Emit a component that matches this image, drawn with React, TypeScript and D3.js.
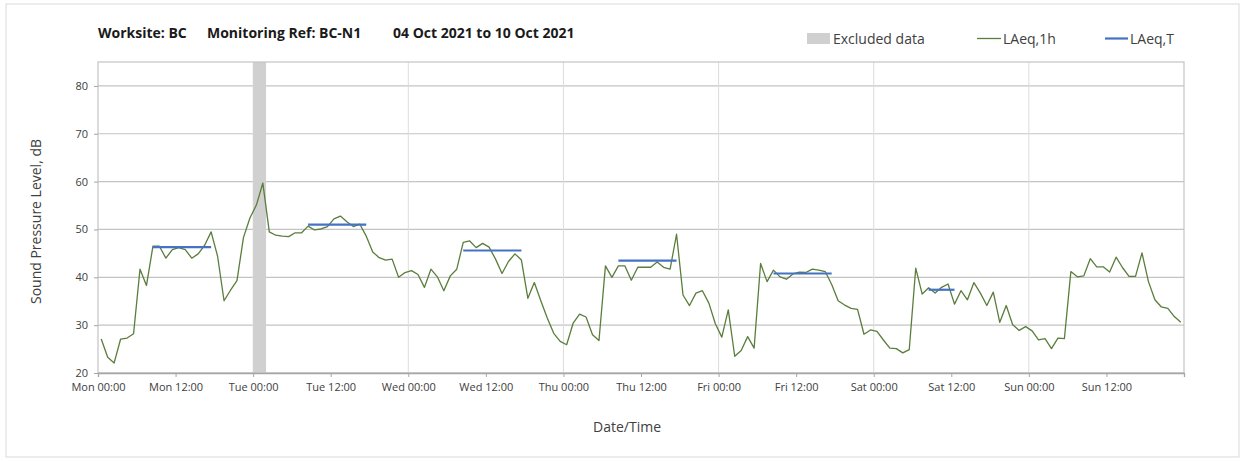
import { useRef, useEffect } from "react";
import * as d3 from "d3";

// hourly LAeq,1h values, Mon 00:00 .. Sun 23:00 (04-10 Oct 2021)
const laeq1h: number[] = [
  27.1, 23.3, 22.1, 27.1, 27.3, 28.2, 41.7, 38.3, 46.5, 46.5, 44.0, 45.8, 46.2, 45.8, 44.0, 44.9, 46.7, 49.5, 44.4, 35.1, 37.3, 39.3, 48.3, 52.4,
  55.1, 59.7, 49.5, 48.8, 48.6, 48.5, 49.3, 49.3, 50.7, 49.9, 50.1, 50.6, 52.2, 52.8, 51.6, 50.6, 51.1, 48.6, 45.3, 44.1, 43.6, 43.8, 40.0, 41.0,
  41.4, 40.6, 37.9, 41.7, 40.1, 37.2, 40.3, 41.7, 47.3, 47.6, 46.2, 47.1, 46.3, 43.8, 40.8, 43.3, 44.9, 43.6, 35.6, 38.9, 35.1, 31.5, 28.3, 26.6,
  25.9, 30.4, 32.3, 31.7, 28.0, 26.8, 42.4, 40.0, 42.4, 42.4, 39.4, 42.1, 42.1, 42.1, 43.2, 42.1, 41.7, 49.0, 36.3, 34.1, 36.7, 37.2, 34.6, 30.3,
  27.5, 33.2, 23.5, 24.7, 27.6, 25.2, 42.9, 39.1, 41.5, 40.1, 39.6, 40.7, 41.1, 41.0, 41.7, 41.5, 41.2, 38.5, 35.1, 34.2, 33.5, 33.3, 28.1, 29.0,
  28.7, 26.9, 25.2, 25.1, 24.2, 24.9, 41.9, 36.5, 37.8, 36.7, 37.9, 38.6, 34.4, 37.2, 35.3, 38.9, 36.7, 34.1, 36.9, 30.6, 34.1, 30.1, 28.9, 29.7,
  28.8, 26.9, 27.2, 25.1, 27.3, 27.2, 41.2, 40.1, 40.3, 43.9, 42.2, 42.2, 41.1, 44.2, 42.0, 40.2, 40.2, 45.1, 39.1, 35.3, 33.8, 33.5, 31.8, 30.6,
];

// LAeq,T periods: first hour, last hour, level
const periodStart = [8, 32, 56, 80, 104, 128];
const periodEnd = [17, 41, 65, 89, 113, 132];
const periodLevel = [46.3, 51.0, 45.6, 43.5, 40.8, 37.4];

// excluded data window (hours from Mon 00:00)
const excludedFrom = 24;
const excludedTo = 26;

const xTickLabels = [
  "Mon 00:00", "Mon 12:00", "Tue 00:00", "Tue 12:00", "Wed 00:00", "Wed 12:00", "Thu 00:00",
  "Thu 12:00", "Fri 00:00", "Fri 12:00", "Sat 00:00", "Sat 12:00", "Sun 00:00", "Sun 12:00",
];
const yTicks = [20, 30, 40, 50, 60, 70, 80];

const W = 1243;
const H = 461;
const margin = { top: 62, right: 59, bottom: 88, left: 98 };
const FONT = "'Open Sans', sans-serif";

export default function App() {
  const xAxisRef = useRef<SVGGElement | null>(null);
  const yAxisRef = useRef<SVGGElement | null>(null);

  const x = d3.scaleLinear().domain([0, 168]).range([margin.left, W - margin.right]);
  const y = d3.scaleLinear().domain([20, 85]).range([H - margin.bottom, margin.top]);

  const line = d3
    .line<number>()
    .x((_, i) => x(i + 0.5))
    .y((d) => y(d));

  useEffect(() => {
    const xAxis = d3
      .axisBottom(x)
      .tickValues(d3.range(0, 169, 12))
      .tickSize(4)
      .tickPadding(6)
      .tickFormat((d, i) => xTickLabels[i] ?? "");
    const gx = d3.select(xAxisRef.current!).call(xAxis as any);
    gx.select(".domain").attr("stroke", "#a6a6a6").attr("stroke-width", 1.3);
    gx.selectAll(".tick line").attr("stroke", "#a6a6a6");
    gx.selectAll(".tick text").attr("fill", "#404040").style("font-family", FONT).style("font-size", "11px");

    const yAxis = d3.axisLeft(y).tickValues(yTicks).tickSize(4).tickPadding(6);
    const gy = d3.select(yAxisRef.current!).call(yAxis as any);
    gy.select(".domain").remove();
    gy.selectAll(".tick line").attr("stroke", "#a6a6a6");
    gy.selectAll(".tick text").attr("fill", "#404040").style("font-family", FONT).style("font-size", "11px");
  }, []);

  const plotW = W - margin.left - margin.right;
  const plotH = H - margin.top - margin.bottom;

  return (
    <svg width={W} height={H} style={{ position: "absolute", left: 0, top: 0, background: "#fff" }}>
      <rect x={6} y={4} width={W - 10} height={H - 8} fill="#fff" stroke="#d9d9d9" />

      {/* title */}
      <g fontFamily={FONT} fontWeight={700} fontSize={14} fill="#1a1a1a">
        <text x={98} y={38}>Worksite: BC</text>
        <text x={207} y={38}>Monitoring Ref: BC-N1</text>
        <text x={393} y={38}>04 Oct 2021 to 10 Oct 2021</text>
      </g>

      {/* legend */}
      <g fontFamily={FONT} fontSize={14} fill="#404040">
        <rect x={807} y={33} width={23} height={11} fill="#d0d0d0" />
        <text x={833} y={44}>Excluded data</text>
        <line x1={977} x2={1001} y1={38.5} y2={38.5} stroke="#5a7d3c" strokeWidth={1.3} />
        <text x={1003} y={44}>LAeq,1h</text>
        <line x1={1105} x2={1128} y1={38.5} y2={38.5} stroke="#4472c4" strokeWidth={2.2} />
        <text x={1130} y={44}>LAeq,T</text>
      </g>

      {/* gridlines */}
      {yTicks.map((t) => (
        <line key={"h" + t} x1={margin.left} x2={W - margin.right} y1={y(t)} y2={y(t)} stroke="#c4c4c4" strokeWidth={1.2} />
      ))}
      {d3.range(24, 168, 24).map((t) => (
        <line key={"v" + t} x1={x(t)} x2={x(t)} y1={margin.top} y2={H - margin.bottom} stroke="#dcdcdc" strokeWidth={1} />
      ))}

      {/* excluded data */}
      <rect x={x(excludedFrom)} y={margin.top} width={x(excludedTo) - x(excludedFrom)} height={plotH} fill="#d0d0d0" />

      {/* plot border */}
      <rect x={margin.left} y={margin.top} width={plotW} height={plotH} fill="none" stroke="#c4c4c4" strokeWidth={1.2} />

      <g ref={xAxisRef} transform={`translate(0,${H - margin.bottom})`} />
      <g ref={yAxisRef} transform={`translate(${margin.left},0)`} />

      <path d={line(laeq1h) ?? ""} fill="none" stroke="#5a7d3c" strokeWidth={1.3} strokeLinejoin="round" />

      {periodLevel.map((v, i) => (
        <line
          key={"p" + i}
          x1={x(periodStart[i] + 0.5)}
          x2={x(periodEnd[i] + 0.5)}
          y1={y(v)}
          y2={y(v)}
          stroke="#4472c4"
          strokeWidth={2.2}
        />
      ))}

      {/* axis titles */}
      <text x={627} y={432} textAnchor="middle" fontFamily={FONT} fontSize={14} fill="#404040">
        Date/Time
      </text>
      <text
        transform={`translate(41,${(margin.top + H - margin.bottom) / 2 + 4}) rotate(-90)`}
        textAnchor="middle"
        fontFamily={FONT}
        fontSize={14}
        fill="#404040"
      >
        Sound Pressure Level, dB
      </text>
    </svg>
  );
}
